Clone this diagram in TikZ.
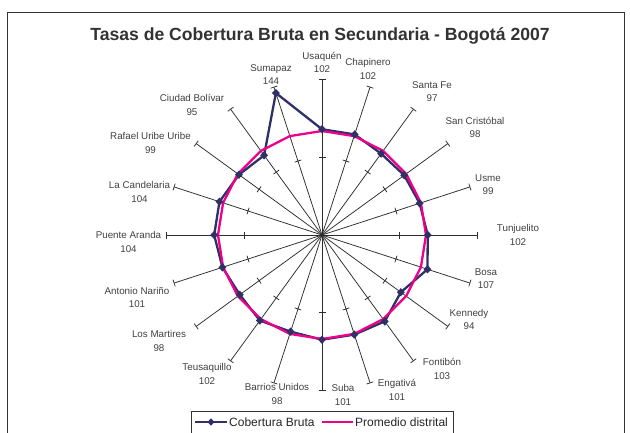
\documentclass[tikz,border=0pt]{standalone}
\usepackage{fontspec}
\setmainfont{Liberation Sans}
\usetikzlibrary{shapes.geometric,calc}
\definecolor{navy}{RGB}{46,48,102}
\definecolor{hotpink}{RGB}{236,0,140}
\definecolor{txt}{RGB}{64,64,64}
\definecolor{axisgray}{RGB}{45,45,45}
\begin{document}
\begin{tikzpicture}[x=1pt,y=1pt,
  axisline/.style={draw=axisgray,line width=0.75pt},
  tickline/.style={draw=axisgray,line width=0.75pt},
  lbl/.style={text=txt,font=\fontsize{9.8}{13.2}\selectfont,align=center,inner sep=0pt},
  titlestyle/.style={text=black!80,font=\fontsize{17.6}{20}\selectfont\bfseries,inner sep=0pt},
  blueline/.style={draw=navy,line width=2.3pt,line join=round},
  pinkline/.style={draw=hotpink,line width=2.3pt,line join=round},
  mark/.style={},
  marker/.style={diamond,fill=navy,draw=none,minimum width=8pt,minimum height=8.5pt,inner sep=0pt},
  legmarker/.style={diamond,fill=navy,draw=none,minimum width=7pt,minimum height=7.5pt,inner sep=0pt},
  legtext/.style={text=black!85,font=\fontsize{12}{14}\selectfont,anchor=west,inner sep=0pt},
  framestyle/.style={draw=black!80,line width=0.9pt}
]
\useasboundingbox (0,0) rectangle (630,432);
\fill[white] (0,0) rectangle (630,432);
\draw[framestyle] (7,420) rectangle (624,-10);
\node[titlestyle] (title) at (320,396) {Tasas de Cobertura Bruta en Secundaria - Bogotá 2007};
\coordinate (C) at (322,197);
\foreach \k/\v in {0/102,1/102,2/97,3/98,4/99,5/102,6/107,7/94,8/103,9/101,10/101,11/98,12/102,13/98,14/101,15/104,16/104,17/99,18/95,19/144} {
  \pgfmathsetmacro\ang{90-18*\k}
  \pgfmathsetmacro\rad{\v*1.03667}
  \coordinate (a\k) at ($(C)+(\ang:155.5)$);
  \coordinate (m\k) at ($(C)+(\ang:77.75)$);
  \coordinate (d\k) at ($(C)+(\ang:\rad)$);
  \coordinate (p\k) at ($(C)+(\ang:104)$);
}
% axes with ticks
\foreach \k in {0,...,19} {
  \draw[axisline] (C) -- (a\k);
  \draw[tickline] ($(a\k)!3.5pt!90:(C)$) -- ($(a\k)!3.5pt!-90:(C)$);
  \draw[tickline] ($(m\k)!3.5pt!90:(C)$) -- ($(m\k)!3.5pt!-90:(C)$);
}
% data series
\draw[blueline] (d0) -- (d1) -- (d2) -- (d3) -- (d4) -- (d5) -- (d6) -- (d7) -- (d8) -- (d9) -- (d10) -- (d11) -- (d12) -- (d13) -- (d14) -- (d15) -- (d16) -- (d17) -- (d18) -- (d19) -- cycle;
\draw[pinkline] (p0) -- (p1) -- (p2) -- (p3) -- (p4) -- (p5) -- (p6) -- (p7) -- (p8) -- (p9) -- (p10) -- (p11) -- (p12) -- (p13) -- (p14) -- (p15) -- (p16) -- (p17) -- (p18) -- (p19) -- cycle;
\foreach \k in {0,...,19} {
  \node[marker] (mk\k) at (d\k) {};
}
% labels
\node[lbl] (l0) at (322,369.5) {Usaquén\\102};
\node[lbl] (l1) at (368,363) {Chapinero\\102};
\node[lbl] (l2) at (432,340) {Santa Fe\\97};
\node[lbl] (l3) at (475,304.5) {San Cristóbal\\98};
\node[lbl] (l4) at (488,247.5) {Usme\\99};
\node[lbl] (l5) at (518,197) {Tunjuelito\\102};
\node[lbl] (l6) at (486,153) {Bosa\\107};
\node[lbl] (l7) at (469,112.5) {Kennedy\\94};
\node[lbl] (l8) at (442,63) {Fontibón\\103};
\node[lbl] (l9) at (397,42) {Engativá\\101};
\node[lbl] (l10) at (343,37) {Suba\\101};
\node[lbl] (l11) at (277,38) {Barrios Unidos\\98};
\node[lbl] (l12) at (207,58) {Teusaquillo\\102};
\node[lbl] (l13) at (159,91) {Los Martires\\98};
\node[lbl] (l14) at (137,134.5) {Antonio Nariño\\101};
\node[lbl] (l15) at (128.5,190) {Puente Aranda\\104};
\node[lbl] (l16) at (139.5,240) {La Candelaria\\104};
\node[lbl] (l17) at (150.5,289) {Rafael Uribe Uribe\\99};
\node[lbl] (l18) at (192,327) {Ciudad Bolívar\\95};
\node[lbl] (l19) at (271,357.5) {Sumapaz\\144};
% legend
\draw[draw=black!80,line width=0.8pt,fill=white] (191,21) rectangle (453,-6);
\coordinate (lb1) at (195,10);
\coordinate (lb2) at (227,10);
\coordinate (lp1) at (322,10);
\coordinate (lp2) at (353,10);
\draw[blueline,line width=2pt] (lb1) -- (lb2);
\node[legmarker] (lbm) at ($(lb1)!0.5!(lb2)$) {};
\node[legtext] (lbt) at (229,10) {Cobertura Bruta};
\draw[pinkline,line width=2pt] (lp1) -- (lp2);
\node[legtext] (lpt) at (355,10) {Promedio distrital};
\end{tikzpicture}
\end{document}
